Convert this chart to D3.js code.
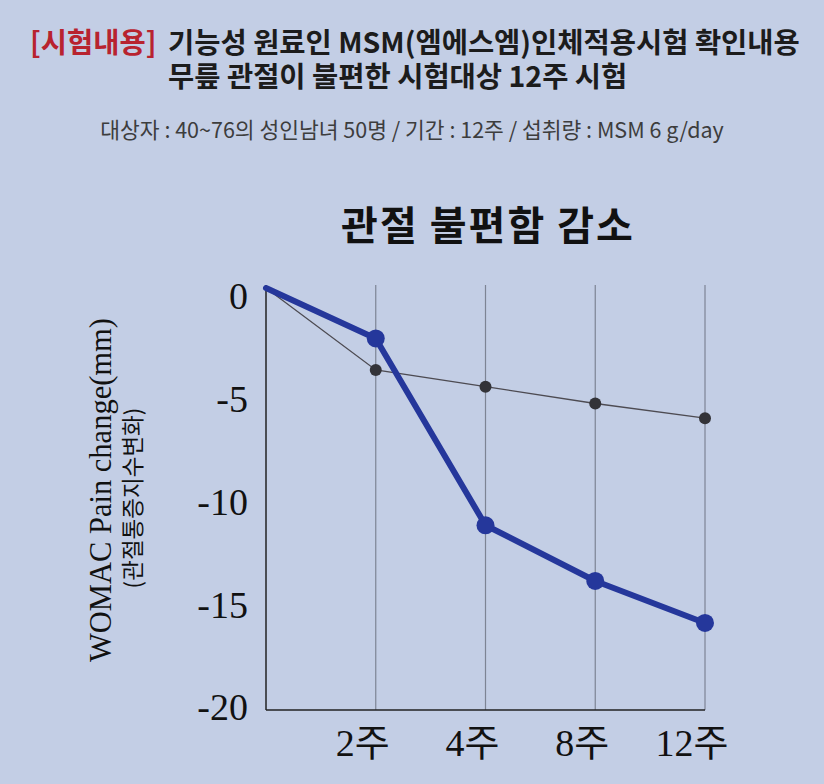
<!DOCTYPE html>
<html>
<head>
<meta charset="utf-8">
<script src="https://cdn.jsdelivr.net/npm/d3@7"></script>
<style>
  body { margin: 0; background: #c3cee5; }
  svg { display: block; }
</style>
</head>
<body>
<div id="chart"></div>
<script>
// data
var weeks = ["", "2주", "4주", "8주", "12주"];
var msmValues = [0, -2.4, -11.3, -13.95, -15.95];
var placeboValues = [0, -3.9, -4.7, -5.5, -6.2];
var yTicks = [0, -5, -10, -15, -20];

var svgWidth = 824;
var svgHeight = 784;

var svg = d3.select("#chart")
  .append("svg")
  .attr("width", svgWidth)
  .attr("height", svgHeight);

svg.append("rect")
  .attr("width", svgWidth)
  .attr("height", svgHeight)
  .attr("fill", "#c3cee5");

// header texts
var head = svg.append("text")
  .attr("y", 53)
  .style("font-family", "'Noto Sans CJK KR', sans-serif")
  .style("font-weight", "bold")
  .style("font-size", "28.5px");
head.append("tspan").attr("x", 30).attr("fill", "#b8232f").text("[시험내용]");
head.append("tspan").attr("x", 168).attr("fill", "#1c1c1c").text("기능성 원료인 MSM(엠에스엠)인체적용시험 확인내용");

svg.append("text")
  .attr("x", 168)
  .attr("y", 87)
  .attr("fill", "#1c1c1c")
  .style("font-family", "'Noto Sans CJK KR', sans-serif")
  .style("font-weight", "bold")
  .style("font-size", "28.5px")
  .text("무릎 관절이 불편한 시험대상 12주 시험");

svg.append("text")
  .attr("x", 412)
  .attr("y", 138)
  .attr("text-anchor", "middle")
  .attr("fill", "#3d3d3d")
  .style("font-family", "'Noto Sans CJK KR', sans-serif")
  .style("font-size", "21.5px")
  .text("대상자 : 40~76의 성인남녀 50명 / 기간 : 12주 / 섭취량 : MSM 6 g/day");

// chart title
svg.append("text")
  .attr("x", 488)
  .attr("y", 240)
  .attr("text-anchor", "middle")
  .attr("fill", "#111")
  .style("font-family", "'Noto Sans CJK KR', serif")
  .style("font-weight", "bold")
  .style("font-size", "40px")
  .style("letter-spacing", "2px")
  .text("관절 불편함 감소");

// scales
var xScale = d3.scaleLinear()
  .domain([0, 4])
  .range([266, 705]);

var yScale = d3.scaleLinear()
  .domain([0, -20])
  .range([288, 708]);

var plotTop = 285;
var plotBottom = 710;

// vertical grid lines
svg.selectAll(".grid")
  .data(weeks.slice(1))
  .enter()
  .append("line")
  .attr("class", "grid")
  .attr("x1", (d, i) => xScale(i + 1))
  .attr("x2", (d, i) => xScale(i + 1))
  .attr("y1", plotTop)
  .attr("y2", plotBottom)
  .attr("stroke", "#7d8494")
  .attr("stroke-width", 1.2);

// axis lines
svg.append("line")
  .attr("x1", xScale(0)).attr("x2", xScale(0))
  .attr("y1", plotTop).attr("y2", plotBottom)
  .attr("stroke", "#222").attr("stroke-width", 1.5);

svg.append("line")
  .attr("x1", xScale(0)).attr("x2", xScale(4))
  .attr("y1", plotBottom).attr("y2", plotBottom)
  .attr("stroke", "#222").attr("stroke-width", 1.5);

// y tick labels
svg.selectAll(".ytick")
  .data(yTicks)
  .enter()
  .append("text")
  .attr("class", "ytick")
  .attr("x", 248)
  .attr("y", d => yScale(d) + 8 + d * 0.45)
  .attr("dy", "0.35em")
  .attr("text-anchor", "end")
  .attr("fill", "#111")
  .style("font-family", "'Liberation Serif', serif")
  .style("font-size", "38px")
  .text(d => d);

// x tick labels
svg.selectAll(".xtick")
  .data(weeks.slice(1))
  .enter()
  .append("text")
  .attr("class", "xtick")
  .attr("x", (d, i) => xScale(i + 1) - 13)
  .attr("y", 756)
  .attr("text-anchor", "middle")
  .attr("fill", "#111")
  .style("font-family", "'Liberation Serif', 'Noto Sans CJK KR', serif")
  .style("font-size", "38px")
  .text(d => d);

// y axis titles
svg.append("text")
  .attr("transform", "translate(111, 490) rotate(-90)")
  .attr("text-anchor", "middle")
  .attr("fill", "#111")
  .style("font-family", "'Liberation Serif', serif")
  .style("font-size", "30.5px")
  .text("WOMAC Pain change(mm)");

svg.append("text")
  .attr("transform", "translate(141, 498) rotate(-90)")
  .attr("text-anchor", "middle")
  .attr("fill", "#111")
  .style("font-family", "'Noto Sans CJK KR', sans-serif")
  .style("font-size", "22.5px")
  .text("(관절통증지수변화)");

var line = d3.line()
  .x((d, i) => xScale(i))
  .y(d => yScale(d));

// placebo series
svg.append("path")
  .datum(placeboValues)
  .attr("d", line)
  .attr("fill", "none")
  .attr("stroke", "#4d4b52")
  .attr("stroke-width", 1.3);

svg.selectAll(".pdot")
  .data(placeboValues.slice(1))
  .enter()
  .append("circle")
  .attr("class", "pdot")
  .attr("cx", (d, i) => xScale(i + 1))
  .attr("cy", d => yScale(d))
  .attr("r", 6)
  .attr("fill", "#333338");

// MSM series
svg.append("path")
  .datum(msmValues)
  .attr("d", line)
  .attr("fill", "none")
  .attr("stroke", "#25379b")
  .attr("stroke-width", 6)
  .attr("stroke-linejoin", "round")
  .attr("stroke-linecap", "round");

svg.selectAll(".mdot")
  .data(msmValues.slice(1))
  .enter()
  .append("circle")
  .attr("class", "mdot")
  .attr("cx", (d, i) => xScale(i + 1))
  .attr("cy", d => yScale(d))
  .attr("r", 9)
  .attr("fill", "#25379b");
</script>
</body>
</html>
